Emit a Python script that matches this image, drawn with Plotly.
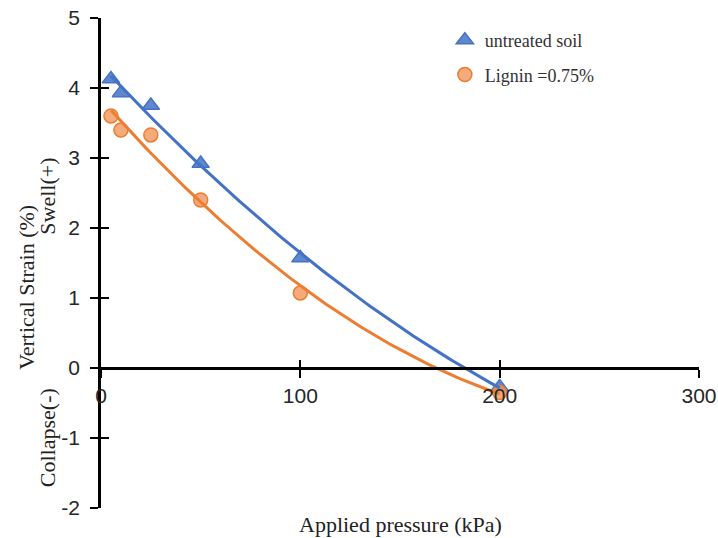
import numpy as np
import plotly.graph_objects as go

pressure = [5, 10, 25, 50, 100, 200]
untreated = [4.13, 3.93, 3.75, 2.92, 1.57, -0.27]
lignin = [3.60, 3.40, 3.33, 2.40, 1.07, -0.35]
series_names = ["untreated soil", "Lignin =0.75%"]
x_ticks = [0, 100, 200, 300]
y_ticks = [-2, -1, 0, 1, 2, 3, 4, 5]
y_tick_text = ["-2", "-1", "0", "1", "2", "3", "4", "5"]

blue = "#4472C4"
orange = "#ED7D31"

# polynomial (order 2) trendlines, as in the source spreadsheet
xs = np.linspace(min(pressure), max(pressure), 100)
fit_u = np.polyval(np.polyfit(pressure, untreated, 2), xs)
fit_l = np.polyval(np.polyfit(pressure, lignin, 2), xs)

fig = go.Figure()
fig.add_trace(go.Scatter(x=pressure, y=untreated, mode="markers", name=series_names[0],
                         legendgroup="a",
                         marker=dict(symbol="triangle-up", size=15, color="rgba(68,114,196,0.85)",
                                     line=dict(color=blue, width=1.5))))
fig.add_trace(go.Scatter(x=pressure, y=lignin, mode="markers", name=series_names[1],
                         legendgroup="b",
                         marker=dict(symbol="circle", size=14, color="rgba(240,150,90,0.8)",
                                     line=dict(color=orange, width=1.5))))
fig.add_trace(go.Scatter(x=xs, y=fit_u, mode="lines", showlegend=False,
                         line=dict(color=blue, width=3), hoverinfo="skip"))
fig.add_trace(go.Scatter(x=xs, y=fit_l, mode="lines", showlegend=False,
                         line=dict(color=orange, width=3), hoverinfo="skip"))
# invisible trace to carry inside ticks on overlay axes
fig.add_trace(go.Scatter(x=[None], y=[None], xaxis="x2", yaxis="y2", showlegend=False))

tickfont = dict(family="Liberation Sans", size=21, color="#262626")
fig.update_layout(
    width=718, height=538,
    margin=dict(l=101, r=19, t=18, b=30, autoexpand=False),
    paper_bgcolor="white", plot_bgcolor="white",
    showlegend=True,
    legend=dict(x=0.575, y=0.992, xanchor="left", yanchor="top",
                font=dict(family="Liberation Serif", size=18, color="#333"),
                traceorder="grouped", tracegroupgap=8, bgcolor="rgba(0,0,0,0)",
                itemwidth=30),
    xaxis=dict(range=[0, 300], tickvals=x_ticks, showgrid=False, zeroline=False,
               showline=True, linecolor="black", linewidth=2.5, automargin=False,
               ticks="outside", ticklen=8, tickwidth=2, tickcolor="black",
               anchor="free", position=2/7, tickfont=tickfont),
    yaxis=dict(range=[-2, 5], tickvals=y_ticks, ticktext=y_tick_text,
               showgrid=False, zeroline=False, automargin=False,
               showline=True, linecolor="black", linewidth=2.5,
               ticks="outside", ticklen=8, tickwidth=2, tickcolor="black",
               ticklabelstandoff=6, tickfont=tickfont, domain=[0, 1]),
    xaxis2=dict(range=[0, 300], tickvals=x_ticks, overlaying="x", anchor="free", position=2/7,
                showgrid=False, zeroline=False, showline=False, showticklabels=False,
                automargin=False,
                ticks="inside", ticklen=8, tickwidth=2, tickcolor="black"),
    yaxis2=dict(range=[-2, 5], tickvals=y_ticks, overlaying="y", anchor="x", side="left",
                showgrid=False, zeroline=False, showline=False, showticklabels=False,
                automargin=False,
                ticks="inside", ticklen=8, tickwidth=2, tickcolor="black"),
)

serif = "Liberation Serif"
fig.add_annotation(text="Applied pressure (kPa)", xref="paper", yref="paper",
                   x=0.5, y=-0.034, xanchor="center", yanchor="middle", showarrow=False,
                   font=dict(family=serif, size=22, color="#222"))
fig.add_annotation(text="Vertical Strain (%)", xref="paper", yref="y",
                   x=-0.125, y=1.15, textangle=-90, showarrow=False,
                   xanchor="center", yanchor="middle",
                   font=dict(family=serif, size=22, color="#222"))
fig.add_annotation(text="Swell(+)", xref="paper", yref="y",
                   x=-0.09, y=2.45, textangle=-90, showarrow=False,
                   xanchor="center", yanchor="middle",
                   font=dict(family=serif, size=22, color="#222"))
fig.add_annotation(text="Collapse(-)", xref="paper", yref="y",
                   x=-0.09, y=-1.0, textangle=-90, showarrow=False,
                   xanchor="center", yanchor="middle",
                   font=dict(family=serif, size=22, color="#222"))

fig.write_html("out.html")
